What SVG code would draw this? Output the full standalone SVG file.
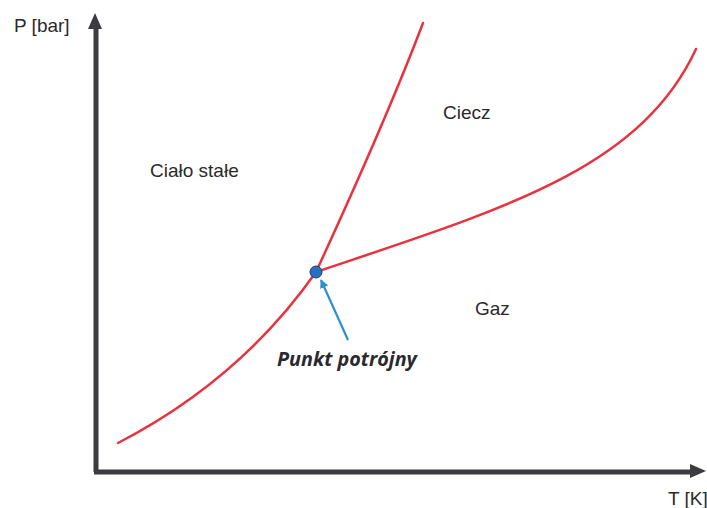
<svg xmlns="http://www.w3.org/2000/svg" width="707" height="508" viewBox="0 0 707 508">
<style>
.axis{stroke:#3b3b40;stroke-width:5;fill:none}
.curve{stroke:#e8333f;stroke-width:2.5;fill:none;stroke-linecap:round}
.lbl{font-family:"Liberation Sans",Arial,sans-serif;font-size:19px;fill:#2a2a2a}
.tp{font-family:"Open Sans","Liberation Sans",sans-serif;font-size:19.8px;font-weight:bold;font-style:italic;fill:#2a2a2e}
</style>
<defs>
<marker id="ba" viewBox="0 0 10 10" refX="9" refY="5" markerWidth="4" markerHeight="4" orient="auto">
<path d="M0,0 L10,5 L0,10 z" fill="#2f8fcf"/>
</marker>
</defs>
<rect width="707" height="508" fill="#fff"/>
<g id="axes">
<line class="axis" x1="96" y1="472" x2="96" y2="26"/>
<polygon points="95,13 88,29 102,29" fill="#3b3b40"/>
<line class="axis" x1="94" y1="472" x2="692" y2="472"/>
<polygon points="706,471 690,464 690,478" fill="#3b3b40"/>
</g>
<g id="connectors">
<path id="sublimation" class="curve" d="M118,443 Q240,380 316,272"/>
<path id="melting" class="curve" d="M316,272 C340,220 390,110 423,23"/>
<path id="vaporization" class="curve" d="M316,272 C500,210 640,170 696,49"/>
<line x1="348" y1="340" x2="321" y2="280" stroke="#2f8fcf" stroke-width="2.2" marker-end="url(#ba)"/>
</g>
<g id="triple-point">
<circle cx="316" cy="272" r="6" fill="#2a6fbf" stroke="#1f3f6f" stroke-width="1"/>
</g>
<g id="labels">
<text class="lbl" x="14" y="32" font-size="20">P [bar]</text>
<text class="lbl" x="668" y="505">T [K]</text>
<text id="solid" class="lbl" x="150" y="177">Ciało stałe</text>
<text id="liquid" class="lbl" x="443" y="119">Ciecz</text>
<text id="gas" class="lbl" x="475" y="315">Gaz</text>
<text id="tp-label" class="tp" x="277" y="366">Punkt potrójny</text>
</g>
</svg>
